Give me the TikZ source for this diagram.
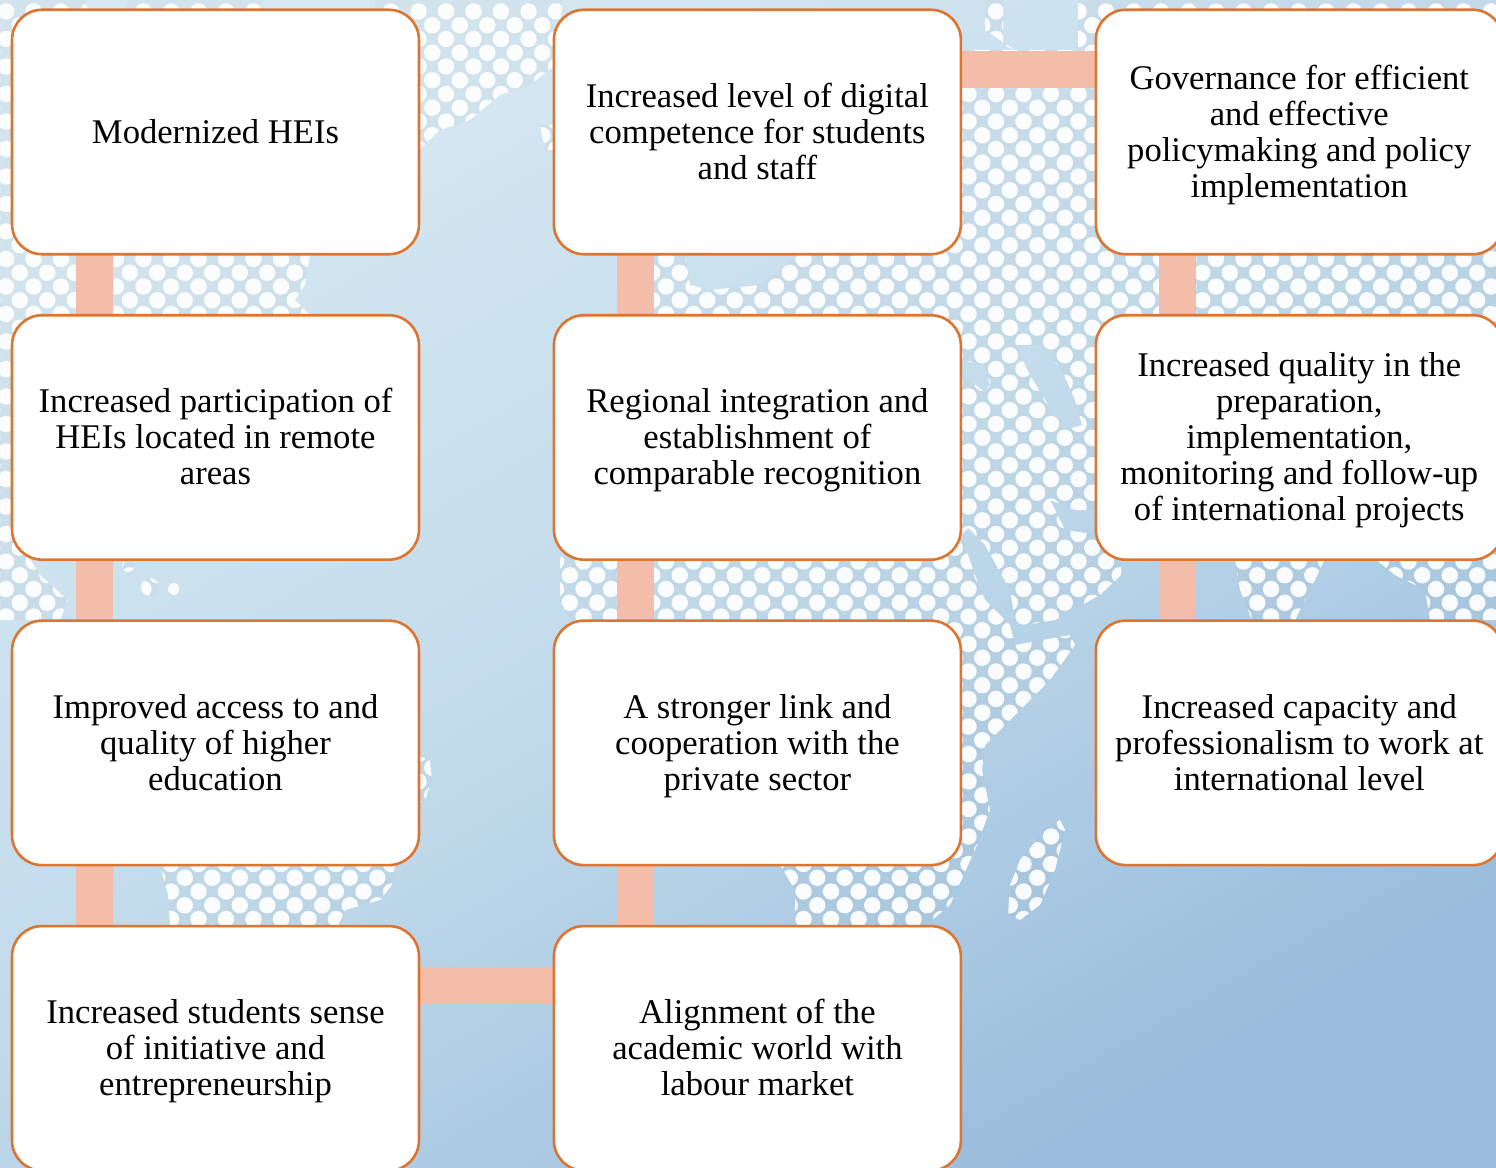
\documentclass[tikz,border=0pt]{standalone}
\usepackage{fontspec}
\setmainfont{Liberation Serif}
\usetikzlibrary{positioning}
\pgfdeclarelayer{backdrop}
\pgfsetlayers{backdrop,main}
\definecolor{boxline}{HTML}{DD7531}
\definecolor{linkfill}{HTML}{F4BDAA}
\definecolor{seatop}{HTML}{D6E8F2}
\definecolor{seamid}{HTML}{C2DBEB}
\definecolor{seabot}{HTML}{9ABDDD}
\tikzset{
  outcome/.style={draw=boxline, fill=white, line width=0.052cm, rounded corners=0.6cm,
    minimum width=8.14cm, minimum height=4.89cm, text width=7.8cm, align=flush center, outer sep=0pt,
    font=\fontsize{19.7}{20.5}\selectfont,
    execute at begin node={\rule{0pt}{18.9pt}}, execute at end node=\strut},
  link/.style={linkfill, line width=0.74cm}
}
\begin{document}
\begin{tikzpicture}[x=0.02cm, y=-0.02cm, node distance=1.22cm and 2.7cm]
  \useasboundingbox (0,0) rectangle (1496,1168);
  % column 1
  \node[outcome] (modern) at (215.5,132) {Modernized HEIs};
  \node[outcome, below=of modern] (remote) {Increased participation of\\HEIs located in remote\\areas};
  \node[outcome, below=of remote] (access) {Improved access to and\\quality of higher\\education};
  \node[outcome, below=of access] (sense) {Increased students sense\\of initiative and\\entrepreneurship};
  % column 2
  \node[outcome, right=of modern] (digital) {Increased level of digital\\competence for students\\and staff};
  \node[outcome, below=of digital] (regional) {Regional integration and\\establishment of\\comparable recognition};
  \node[outcome, below=of regional] (private) {A stronger link and\\cooperation with the\\private sector};
  \node[outcome, below=of private] (labour) {Alignment of the\\academic world with\\labour market};
  % column 3
  \node[outcome, right=of digital] (govern) {Governance for efficient\\and effective\\policymaking and policy\\implementation};
  \node[outcome, below=of govern] (quality) {Increased quality in the\\preparation,\\implementation,\\monitoring and follow-up\\of international projects};
  \node[outcome, below=of quality] (capacity) {Increased capacity and\\professionalism to work at\\international level};

  \begin{pgfonlayer}{backdrop}
    \shade[shading=axis, left color=seatop, right color=seabot, middle color=seamid, shading angle=30]
      (0,0) rectangle (1496,1168);
    % dotted land
    \begin{scope}[even odd rule]
      \clip
        (0,0) -- (85,0) -- (88,10) -- (125,10) -- (128,0) -- (262,0) -- (262,10) -- (310,254)
          -- (305,285) -- (295,300) -- (310,315) -- (200,400) -- (30,559) -- (40,575) -- (68,600)
          -- (60,620) -- (0,620) -- cycle
        (375,0) -- (563,0) -- (555,65) -- (530,85) -- (500,95) -- (470,120) -- (440,130)
          -- (419,150) -- (380,100) -- cycle
        (540,125) -- (555,125) -- (555,150) -- (545,150) -- cycle
        (128,566) circle[radius=6]
        (150,587) circle[radius=9]
        (174,589) circle[radius=6]
        (415,755) -- (430,760) -- (432,780) -- (425,800) -- (415,805) -- cycle
        (160,865) -- (395,865) -- (392,885) -- (380,900) -- (345,910) -- (338,926) -- (170,926) -- (168,895) -- cycle
        (985,0) -- (1003,0) -- (1003,45) -- (1015,50) -- (985,30) -- cycle
        (1078,0) -- (1496,0) -- (1496,620) -- (1430,620) -- (1425,590) -- (1395,575) -- (1375,559)
          -- (1325,559) -- (1315,580) -- (1295,620) -- (1252,620) -- (1240,590) -- (1235,559)
          -- (1121,559) -- (1121,575) -- (1100,595) -- (1055,620) -- (1020,626) -- (1015,620)
          -- (1010,590) -- (985,545) -- (968,528) -- (961,535) -- (975,575) -- (985,600)
          -- (1010,625) -- (1015,645) -- (1070,635) -- (1075,645) -- (1050,680) -- (1030,700)
          -- (1000,730) -- (985,745) -- (982,770) -- (990,810) -- (975,850) -- (950,905)
          -- (925,926) -- (795,926) -- (795,890) -- (780,865) -- (700,700) -- (570,620)
          -- (560,600) -- (560,559) -- (600,500) -- (654,315) -- (654,255) -- (685,255)
          -- (690,285) -- (710,290) -- (760,285) -- (800,254) -- (900,150) -- (961,50)
          -- (1078,50) -- cycle
        (1015,345) -- (1040,345) -- (1062,370) -- (1075,400) -- (1082,425) -- (1065,430)
          -- (1045,400) -- (1030,375) -- cycle
        (1050,500) -- (1075,510) -- (1100,510) -- (1100,535) -- (1065,530) -- cycle
        (961,360) -- (985,365) -- (990,385) -- (985,392) -- (961,375) -- cycle
        (1060,820) -- (1065,830) -- (1055,870) -- (1040,905) -- (1020,920) -- (1008,915)
          -- (1010,885) -- (1020,860) -- (1045,830) -- cycle;
      \fill[black!40, opacity=0.06] (0,0) rectangle (1496,1168);
      \foreach \row in {-6,-4,...,62}
        \foreach \col in {-36,...,18} {
          \fill[white, opacity=0.93] (996+\col*27.5, 94+\row*13.75) circle[radius=8.2];
          \fill[white, opacity=0.93] (982.25+\col*27.5, 107.75+\row*13.75) circle[radius=8.2];
        }
    \end{scope}
    % connectors
    \draw[link] ([xshift=1.65cm]modern.south west) -- ([xshift=1.65cm]remote.north west);
    \draw[link] ([xshift=1.65cm]remote.south west) -- ([xshift=1.65cm]access.north west);
    \draw[link] ([xshift=1.65cm]access.south west) -- ([xshift=1.65cm]sense.north west);
    \draw[link] ([yshift=-1.18cm]sense.north east) -- ([yshift=-1.18cm]labour.north west);
    \draw[link] ([xshift=1.63cm]labour.north west) -- ([xshift=1.63cm]private.south west);
    \draw[link] ([xshift=1.63cm]private.north west) -- ([xshift=1.63cm]regional.south west);
    \draw[link] ([xshift=1.63cm]regional.north west) -- ([xshift=1.63cm]digital.south west);
    \draw[link] ([yshift=-1.2cm]digital.north east) -- ([yshift=-1.2cm]govern.north west);
    \draw[link] ([xshift=1.63cm]govern.south west) -- ([xshift=1.63cm]quality.north west);
    \draw[link] ([xshift=1.63cm]quality.south west) -- ([xshift=1.63cm]capacity.north west);
  \end{pgfonlayer}
\end{tikzpicture}
\end{document}
